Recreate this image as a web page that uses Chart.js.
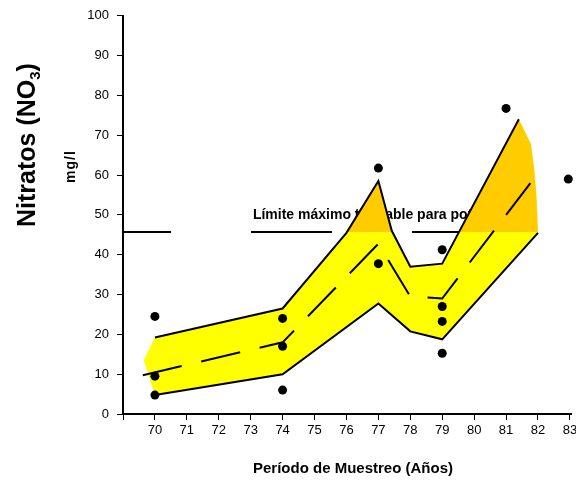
<!DOCTYPE html>
<html>
<head>
<meta charset="utf-8">
<script src="https://cdn.jsdelivr.net/npm/chart.js@4.4.1/dist/chart.umd.min.js"></script>
<style>
  html, body { margin: 0; padding: 0; background: #fff; }
  canvas { display: block; }
</style>
</head>
<body>
<canvas id="grafico" width="576" height="480"></canvas>
<script>
// Límite máximo tolerable (mg/l)
const limiteValor = 45.7;
const limiteTexto = 'Límite máximo tolerable para potable';

// Banda de variación (relleno amarillo / naranja)
const bandaSupAnios   = [69.65, 70, 74, 76, 77, 77.42, 78, 79, 81.4, 81.78, 81.88, 81.95, 82];
const bandaSupValores = [13.5, 19.2, 26.5, 45.5, 58.5, 46, 37, 37.75, 74, 67.75, 61.5, 54.75, 45.5];
const bandaInfAnios   = [69.65, 70, 74, 77, 78, 79, 82];
const bandaInfValores = [13.5, 4.75, 10, 27.75, 20.75, 18.75, 45.5];

// Contornos de la banda
const supAnios   = [70, 74, 76, 77, 77.42, 78, 79, 81.4];
const supValores = [19.2, 26.5, 45.5, 58.5, 46, 37, 37.75, 74];
const infAnios   = [70, 74, 77, 78, 79, 82];
const infValores = [4.75, 10, 27.75, 20.75, 18.75, 45.5];

// Tendencia media (línea a trazos)
const mediaAnios   = [69.62, 74, 77, 78, 79, 82];
const mediaValores = [9.75, 18, 42.75, 29.5, 29, 60.5];

// Muestras
const muestrasAnios   = [70, 70, 70, 74, 74, 74, 77, 77, 79, 79, 79, 79, 81, 82.95];
const muestrasValores = [24.5, 9.5, 4.75, 24, 17, 6, 61.75, 37.75, 41.25, 27, 23.25, 15.25, 76.75, 59];

// Ejes
const ejeXMin = 69;
const ejeXMax = 83.05;
const ejeYMin = 0;
const ejeYMax = 100;

const puntos = (xs, ys) => xs.map((x, i) => ({ x: x, y: ys[i] }));

const FUENTE = '"Liberation Sans", Arial, sans-serif';
Chart.defaults.font.family = FUENTE;
Chart.defaults.color = '#000';

const textos = {
    id: 'textos',
    beforeDatasetsDraw(chart) {
        // texto del límite, queda debajo de la banda
        const { ctx, scales: { x, y } } = chart;
        ctx.save();
        ctx.font = 'bold 14px ' + FUENTE;
        ctx.fillStyle = '#000';
        ctx.textBaseline = 'alphabetic';
        ctx.fillText(limiteTexto, x.getPixelForValue(73.07), y.getPixelForValue(49));
        ctx.restore();
    },
    afterDraw(chart) {
        const ctx = chart.ctx;
        ctx.save();
        ctx.fillStyle = '#000';
        ctx.textBaseline = 'alphabetic';

        // título eje y: Nitratos (NO3)
        ctx.save();
        ctx.translate(35, 227);
        ctx.rotate(-Math.PI / 2);
        ctx.font = 'bold 25px ' + FUENTE;
        ctx.fillText('Nitratos (NO', 0, 0);
        let w = ctx.measureText('Nitratos (NO').width;
        ctx.font = 'bold 15px ' + FUENTE;
        ctx.fillText('3', w, 5);
        w += ctx.measureText('3').width;
        ctx.font = 'bold 25px ' + FUENTE;
        ctx.fillText(')', w, 0);
        ctx.restore();

        // unidades
        ctx.save();
        ctx.translate(75, 183);
        ctx.rotate(-Math.PI / 2);
        ctx.font = 'bold 14px ' + FUENTE;
        ctx.letterSpacing = '1px';
        ctx.fillText('mg/l', 0, 0);
        ctx.restore();

        // título eje x
        ctx.font = 'bold 15px ' + FUENTE;
        ctx.textAlign = 'center';
        ctx.fillText('Período de Muestreo (Años)', 353, 473);
        ctx.restore();
    }
};

const linea = {
    borderColor: '#000',
    borderWidth: 2,
    pointRadius: 0,
    tension: 0,
    fill: false
};

new Chart(document.getElementById('grafico'), {
    type: 'line',
    data: {
        datasets: [
            {   // 0 muestras
                data: puntos(muestrasAnios, muestrasValores),
                showLine: false,
                pointRadius: 4.5,
                pointBackgroundColor: '#000',
                pointBorderColor: '#000',
                pointBorderWidth: 0,
                clip: false,
                order: 1
            },
            Object.assign({}, linea, {   // 1 media
                data: puntos(mediaAnios, mediaValores),
                borderDash: [40, 20],
                order: 2
            }),
            Object.assign({}, linea, {   // 2 contorno superior
                data: puntos(supAnios, supValores),
                order: 3
            }),
            Object.assign({}, linea, {   // 3 contorno inferior
                data: puntos(infAnios, infValores),
                order: 4
            }),
            {   // 4 relleno naranja sobre el límite
                data: puntos(bandaSupAnios, bandaSupValores),
                borderWidth: 0,
                borderColor: 'rgba(0,0,0,0)',
                pointRadius: 0,
                tension: 0,
                fill: { value: limiteValor, above: '#FFCC00', below: 'rgba(0,0,0,0)' },
                order: 6
            },
            {   // 5 relleno amarillo de la banda
                data: puntos(bandaSupAnios, bandaSupValores),
                borderWidth: 0,
                borderColor: 'rgba(0,0,0,0)',
                backgroundColor: '#FFFF00',
                pointRadius: 0,
                tension: 0,
                fill: 6,
                order: 7
            },
            {   // 6 borde inferior del relleno
                data: puntos(bandaInfAnios, bandaInfValores),
                borderWidth: 0,
                borderColor: 'rgba(0,0,0,0)',
                pointRadius: 0,
                tension: 0,
                fill: false,
                order: 8
            },
            Object.assign({}, linea, {   // 7 límite
                data: puntos([ejeXMin, ejeXMax + 0.2], [limiteValor, limiteValor]),
                borderDash: [81, 80],
                borderDashOffset: 33,
                order: 9
            })
        ]
    },
    options: {
        responsive: false,
        animation: false,
        layout: { padding: { top: 14, right: 0, bottom: 0, left: 0 } },
        plugins: {
            legend: { display: false },
            tooltip: { enabled: false }
        },
        scales: {
            x: {
                type: 'linear',
                min: ejeXMin,
                max: ejeXMax,
                ticks: {
                    stepSize: 1,
                    includeBounds: false,
                    autoSkip: false,
                    maxRotation: 0,
                    padding: 3,
                    font: { size: 13 },
                    callback: v => (v === ejeXMin ? '' : v)
                },
                grid: { drawOnChartArea: false, drawTicks: true, tickLength: 6, color: '#000', lineWidth: 1 },
                border: { display: true, color: '#000', width: 2 },
                afterFit(scale) {
                    scale.height = 66;
                    scale.paddingRight = 0;
                    scale.paddingLeft = 0;
                }
            },
            y: {
                min: ejeYMin,
                max: ejeYMax,
                ticks: { stepSize: 10, padding: 8, font: { size: 13 } },
                grid: { drawOnChartArea: false, drawTicks: true, tickLength: 6, color: '#000', lineWidth: 1 },
                border: { display: true, color: '#000', width: 2 },
                afterFit(scale) {
                    scale.width = 123;
                }
            }
        }
    },
    plugins: [textos]
});
</script>
</body>
</html>
